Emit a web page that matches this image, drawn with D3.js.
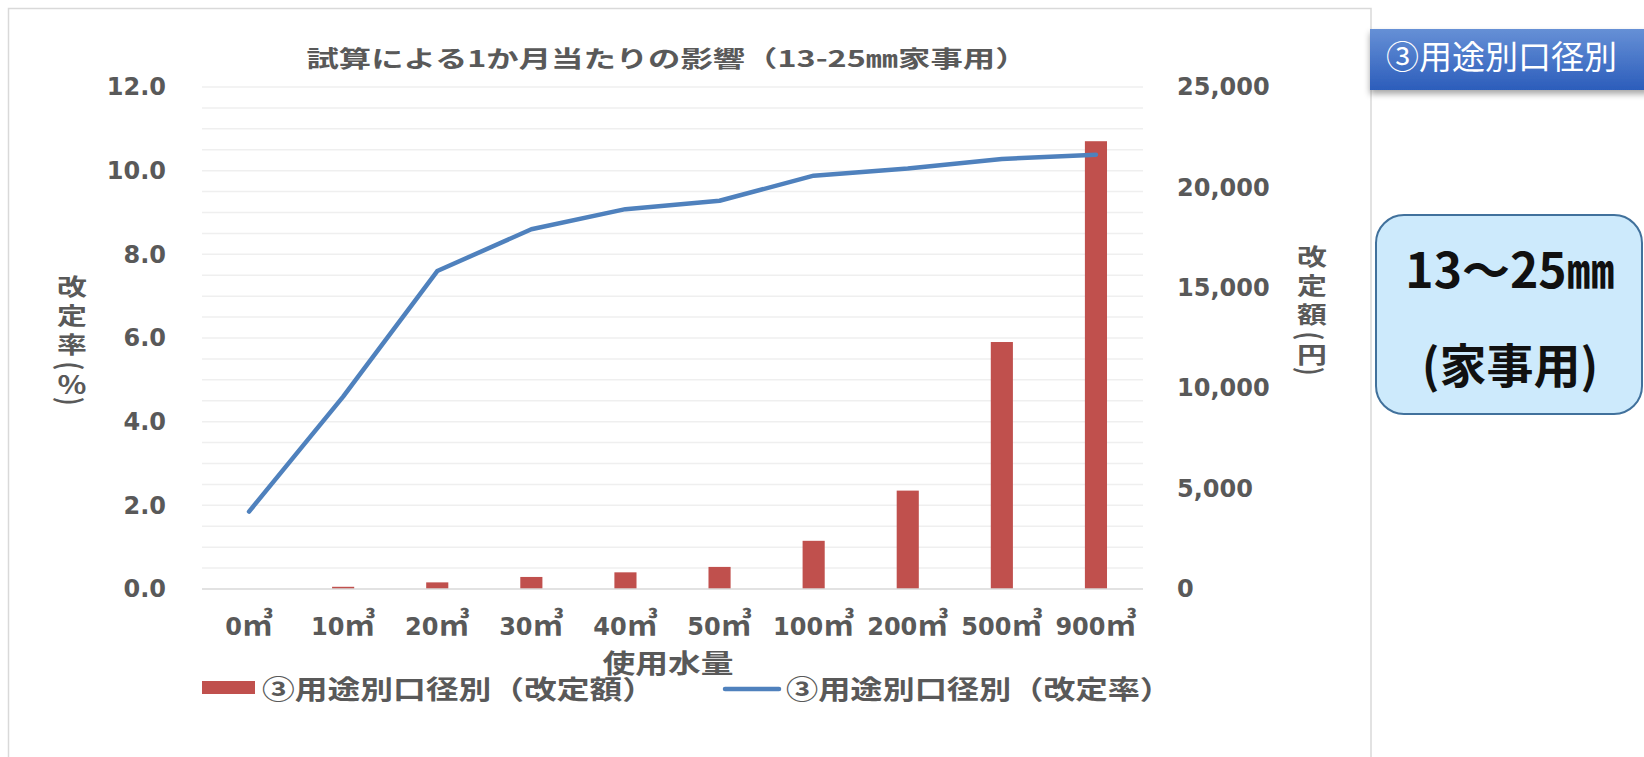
<!DOCTYPE html>
<html>
<head>
  <meta charset="utf-8">
  <title>試算による1か月当たりの影響</title>
  <script src="https://d3js.org/d3.v7.min.js"></script>
  <style>
    body { margin: 0; background: #fff; }
    .tick text { fill: #595959; font-family: "DejaVu Sans", Verdana, sans-serif; font-weight: bold; }
    .jp { font-family: "Noto Sans CJK JP", sans-serif; font-weight: bold; fill: #595959; }
  </style>
</head>
<body>
  <div id="chart"></div>

  <script>
    // data
    const categories = ["0㎥", "10㎥", "20㎥", "30㎥", "40㎥", "50㎥", "100㎥", "200㎥", "500㎥", "900㎥"];
    const amounts = [0, 110, 330, 600, 830, 1100, 2400, 4900, 12300, 22300];   // 改定額（円）
    const rates = [1.85, 4.6, 7.6, 8.6, 9.08, 9.28, 9.88, 10.05, 10.28, 10.38]; // 改定率（%）
    const leftTicks = [0, 2, 4, 6, 8, 10, 12];
    const rightTicks = [0, 5000, 10000, 15000, 20000, 25000];
    const seriesNames = ["③用途別口径別（改定額）", "③用途別口径別（改定率）"];

    const width = 1644, height = 757;
    const plot = { left: 202, right: 1143, top: 87, bottom: 589 };

    const svg = d3.select("#chart").append("svg")
      .attr("width", width)
      .attr("height", height);

    const defs = svg.append("defs");
    const grad = defs.append("linearGradient").attr("id", "hdr").attr("x1", 0).attr("y1", 0).attr("x2", 0).attr("y2", 1);
    grad.append("stop").attr("offset", "0%").attr("stop-color", "#6690d6");
    grad.append("stop").attr("offset", "100%").attr("stop-color", "#2c5dbb");
    const shadow = defs.append("filter").attr("id", "shadow").attr("x", "-10%").attr("y", "-50%").attr("width", "130%").attr("height", "200%");
    shadow.append("feDropShadow").attr("dx", 0).attr("dy", 4).attr("stdDeviation", 3).attr("flood-color", "#000").attr("flood-opacity", 0.35);

    // chart frame
    svg.append("rect")
      .attr("x", 8.5).attr("y", 8.5)
      .attr("width", 1371 - 8.5).attr("height", 800)
      .attr("fill", "none")
      .attr("stroke", "#d9d9d9")
      .attr("stroke-width", 1.5);

    // scales
    const x = d3.scaleBand().domain(categories).range([plot.left, plot.right]);
    const yL = d3.scaleLinear().domain([0, 12]).range([plot.bottom, plot.top]);
    const yR = d3.scaleLinear().domain([0, 25000]).range([plot.bottom, plot.top]);

    // gridlines every 0.5
    svg.append("g")
      .selectAll("line")
      .data(yL.ticks(24).filter(d => d > 0))
      .enter().append("line")
      .attr("x1", plot.left).attr("x2", plot.right)
      .attr("y1", d => yL(d)).attr("y2", d => yL(d))
      .attr("stroke", "#efefef")
      .attr("stroke-width", 1.5);

    // bars
    const barW = x.bandwidth() * 0.235;
    svg.append("g")
      .selectAll("rect")
      .data(categories)
      .enter().append("rect")
      .attr("x", (d, i) => x(d) + (x.bandwidth() - barW) / 2)
      .attr("y", (d, i) => yR(amounts[i]))
      .attr("width", barW)
      .attr("height", (d, i) => yR(0) - yR(amounts[i]))
      .attr("fill", "#c0504d");

    // baseline
    svg.append("line")
      .attr("x1", plot.left).attr("x2", plot.right)
      .attr("y1", yL(0)).attr("y2", yL(0))
      .attr("stroke", "#d9d9d9")
      .attr("stroke-width", 1.5);

    // line
    const line = d3.line()
      .x((d, i) => x(categories[i]) + x.bandwidth() / 2)
      .y(d => yL(d));
    svg.append("path")
      .datum(rates)
      .attr("d", line)
      .attr("fill", "none")
      .attr("stroke", "#4f81bd")
      .attr("stroke-width", 4.5)
      .attr("stroke-linejoin", "round")
      .attr("stroke-linecap", "round");

    // axes
    const axL = svg.append("g")
      .attr("transform", "translate(" + plot.left + ",0)")
      .call(d3.axisLeft(yL).tickValues(leftTicks).tickFormat(d3.format(".1f")).tickSize(0).tickPadding(36));
    const axR = svg.append("g")
      .attr("transform", "translate(" + plot.right + ",0)")
      .call(d3.axisRight(yR).tickValues(rightTicks).tickFormat(d3.format(",")).tickSize(0).tickPadding(34));
    const axB = svg.append("g")
      .attr("transform", "translate(0," + plot.bottom + ")")
      .call(d3.axisBottom(x).tickSize(0).tickPadding(29));
    [axL, axR, axB].forEach(a => a.select(".domain").remove());
    axL.selectAll("text").style("font-size", "24px");
    axR.selectAll("text").style("font-size", "24px");
    // number part in DejaVu, the ㎥ sign larger in the CJK font
    axB.selectAll("text")
      .style("font-size", "24px")
      .each(function(d) {
        const t = d3.select(this);
        t.text(d.replace("㎥", ""));
        t.append("tspan")
          .style("font-family", "'Noto Sans CJK JP', sans-serif")
          .style("font-size", "31px")
          .text("㎥");
      });

    // title
    svg.append("text")
      .attr("class", "jp")
      .attr("x", 667).attr("y", 67)
      .attr("text-anchor", "middle")
      .attr("textLength", 721)
      .attr("lengthAdjust", "spacingAndGlyphs")
      .style("font-size", "23px")
      .text("試算による1か月当たりの影響（13-25㎜家事用）");

    // x axis title
    svg.append("text")
      .attr("class", "jp")
      .attr("x", 668).attr("y", 673)
      .attr("text-anchor", "middle")
      .attr("textLength", 131)
      .attr("lengthAdjust", "spacingAndGlyphs")
      .style("font-size", "26px")
      .text("使用水量");

    // vertical axis titles, written top to bottom
    function vTitle(word, unit, cx, cy) {
      const t = svg.append("g")
        .attr("transform", "translate(" + cx + "," + cy + ") scale(1.3,1)")
        .append("text")
        .attr("class", "jp")
        .attr("x", 0).attr("y", 0)
        .attr("text-anchor", "middle")
        .style("writing-mode", "vertical-rl")
        .style("font-size", "23px");
      t.append("tspan").style("letter-spacing", "6px").text(word);
      t.append("tspan").style("letter-spacing", "3px").text("(");
      t.append("tspan").style("letter-spacing", "1px").text(unit);
      t.append("tspan").text(")");
    }
    vTitle("改定率", "％", 72, 340);
    vTitle("改定額", "円", 1312, 310);

    // legend
    svg.append("rect")
      .attr("x", 202).attr("y", 681)
      .attr("width", 53).attr("height", 13)
      .attr("fill", "#c0504d");
    svg.append("text")
      .attr("class", "jp")
      .attr("x", 262).attr("y", 699)
      .attr("textLength", 393)
      .attr("lengthAdjust", "spacingAndGlyphs")
      .style("font-size", "26px")
      .text(seriesNames[0]);
    svg.append("line")
      .attr("x1", 725).attr("x2", 779)
      .attr("y1", 689).attr("y2", 689)
      .attr("stroke", "#4f81bd")
      .attr("stroke-width", 4.5)
      .attr("stroke-linecap", "round");
    svg.append("text")
      .attr("class", "jp")
      .attr("x", 786).attr("y", 699)
      .attr("textLength", 386)
      .attr("lengthAdjust", "spacingAndGlyphs")
      .style("font-size", "26px")
      .text(seriesNames[1]);

    // header box on the right
    svg.append("rect")
      .attr("x", 1370).attr("y", 29)
      .attr("width", 280).attr("height", 61)
      .attr("fill", "url(#hdr)")
      .attr("filter", "url(#shadow)");
    svg.append("text")
      .attr("x", 1386).attr("y", 69)
      .style("font-family", "'Noto Sans CJK JP', sans-serif")
      .style("font-size", "33px")
      .style("fill", "#fff")
      .text("③用途別口径別");

    // size box
    svg.append("rect")
      .attr("x", 1376).attr("y", 215)
      .attr("width", 266).attr("height", 199)
      .attr("rx", 28).attr("ry", 28)
      .attr("fill", "#cdeafc")
      .attr("stroke", "#41719c")
      .attr("stroke-width", 2);
    svg.append("text")
      .attr("x", 1510).attr("y", 288)
      .attr("text-anchor", "middle")
      .style("font-family", "'Noto Sans CJK JP', sans-serif")
      .style("font-weight", "bold")
      .style("font-size", "48px")
      .style("fill", "#111")
      .text("13〜25㎜");
    svg.append("text")
      .attr("x", 1510).attr("y", 383)
      .attr("text-anchor", "middle")
      .style("font-family", "'Noto Sans CJK JP', sans-serif")
      .style("font-weight", "bold")
      .style("font-size", "47px")
      .style("fill", "#111")
      .text("(家事用)");
  </script>
</body>
</html>
